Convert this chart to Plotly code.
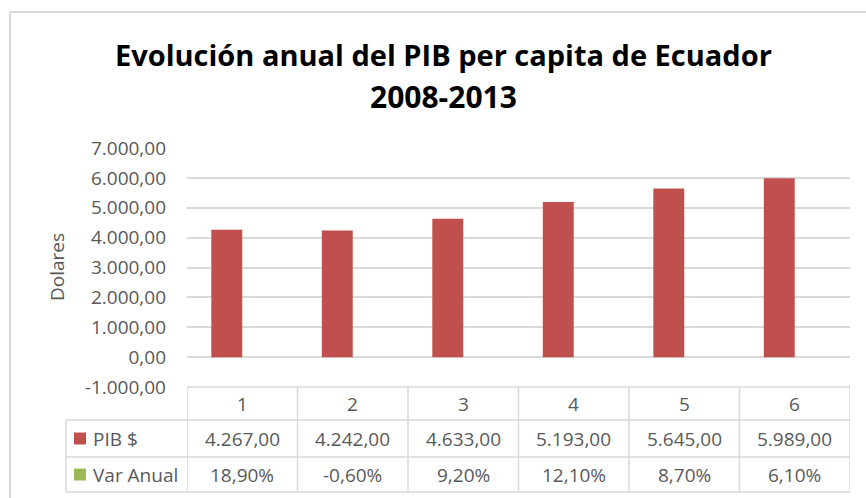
import plotly.graph_objects as go

# ---- data ----
categories = ["1", "2", "3", "4", "5", "6"]
pib_values = [4267.00, 4242.00, 4633.00, 5193.00, 5645.00, 5989.00]
var_anual_pct = [18.90, -0.60, 9.20, 12.10, 8.70, 6.10]
series_names = ["PIB $", "Var Anual"]
y_ticks = [-1000, 0, 1000, 2000, 3000, 4000, 5000, 6000, 7000]
title_lines = ["Evolución anual del PIB per capita de Ecuador", "2008-2013"]
y_title = "Dolares"

# ---- styling ----
W, H = 866, 498
ML, MR, MT, MB = 187, 16, 148, 111
PW, PH = W - ML - MR, H - MT - MB
RED = "#C0504D"
GREEN = "#9BBB59"
GRID = "#D9D9D9"
TXT = "#595959"
FONT = "Open Sans, Lato, sans-serif"


def fmt_es(v, dec=2):
    s = f"{abs(v):,.{dec}f}"
    s = s.replace(",", "X").replace(".", ",").replace("X", ".")
    return ("-" if v < 0 else "") + s


def px_x(px):
    return (px - ML) / PW


def px_y(py):
    return (H - MB - py) / PH


fig = go.Figure()
fig.add_trace(go.Bar(x=categories, y=pib_values, name=series_names[0],
                     marker=dict(color=RED, line=dict(width=0))))
# the "Var Anual" series is plotted on the same dollar axis (values < 1),
# so it is practically invisible, exactly as in the original chart
fig.add_trace(go.Bar(x=categories, y=[v / 100 for v in var_anual_pct],
                     name=series_names[1], opacity=0,
                     marker=dict(color=GREEN, line=dict(width=0))))

shapes = []
annotations = []


def ann(**kw):
    base = dict(showarrow=False, xanchor="center", yanchor="middle")
    base.update(kw)
    annotations.append(base)


# chart border (top & left visible)
shapes.append(dict(type="line", xref="paper", yref="paper",
                   x0=px_x(10), x1=px_x(870), y0=px_y(12), y1=px_y(12),
                   line=dict(color=GRID, width=2)))
shapes.append(dict(type="line", xref="paper", yref="paper",
                   x0=px_x(10), x1=px_x(10), y0=px_y(12), y1=px_y(500),
                   line=dict(color=GRID, width=2)))

# data table grid
row_tops = [387, 420, 457, 492]
left_edge = 66
n = len(categories)
shapes.append(dict(type="line", xref="paper", yref="paper", x0=0, x1=1,
                   y0=px_y(row_tops[0]), y1=px_y(row_tops[0]),
                   line=dict(color=GRID, width=1.5)))
for r in row_tops[1:]:
    shapes.append(dict(type="line", xref="paper", yref="paper",
                       x0=px_x(left_edge), x1=1, y0=px_y(r), y1=px_y(r),
                       line=dict(color=GRID, width=1.5)))
for i in range(n + 1):
    shapes.append(dict(type="line", xref="x", yref="paper",
                       x0=i - 0.5, x1=i - 0.5,
                       y0=px_y(row_tops[0]), y1=px_y(row_tops[-1]),
                       line=dict(color=GRID, width=1.5)))
shapes.append(dict(type="line", xref="paper", yref="paper",
                   x0=px_x(left_edge), x1=px_x(left_edge),
                   y0=px_y(row_tops[1]), y1=px_y(row_tops[-1]),
                   line=dict(color=GRID, width=1.5)))

row_centers = [(row_tops[i] + row_tops[i + 1]) / 2 for i in range(3)]
fs = 19
for i, c in enumerate(categories):
    ann(x=i, xref="x", y=px_y(row_centers[0]), yref="paper", text=c,
        font=dict(size=fs, color=TXT, family=FONT))
    ann(x=i, xref="x", y=px_y(row_centers[1]), yref="paper",
        text=fmt_es(pib_values[i]), font=dict(size=fs, color=TXT, family=FONT))
    ann(x=i, xref="x", y=px_y(row_centers[2]), yref="paper",
        text=fmt_es(var_anual_pct[i]) + "%",
        font=dict(size=fs, color=TXT, family=FONT))

# legend keys in table
for k, (nm, col) in enumerate(zip(series_names, [RED, GREEN])):
    cy = row_centers[k + 1]
    shapes.append(dict(type="rect", xref="paper", yref="paper",
                       x0=px_x(74), x1=px_x(86), y0=px_y(cy - 6), y1=px_y(cy + 6),
                       fillcolor=col, line=dict(width=0)))
    ann(x=px_x(91), xref="paper", y=px_y(cy), yref="paper", text=nm,
        xanchor="left", font=dict(size=fs, color=TXT, family=FONT))

# y axis title
ann(x=px_x(57), xref="paper", y=px_y(267), yref="paper", text=y_title,
    textangle=-90, font=dict(size=fs, color=TXT, family=FONT))

# title lines
ann(x=px_x(443), xref="paper", y=px_y(54), yref="paper",
    text="<b>" + title_lines[0] + "</b>",
    font=dict(size=29, color="#000000", family=FONT))
ann(x=px_x(443), xref="paper", y=px_y(96), yref="paper",
    text="<b>" + title_lines[1] + "</b>",
    font=dict(size=30, color="#000000", family=FONT))

fig.update_layout(
    width=W, height=H,
    margin=dict(l=ML, r=MR, t=MT, b=MB, autoexpand=False),
    paper_bgcolor="white", plot_bgcolor="white",
    barmode="group", bargap=0.44, bargroupgap=0,
    showlegend=False,
    shapes=shapes, annotations=annotations,
    xaxis=dict(type="category", range=[-0.5, n - 0.5], showticklabels=False,
               showgrid=False, zeroline=False, showline=False, ticks=""),
    yaxis=dict(range=[-1000, 7000], tickvals=y_ticks,
               ticktext=[fmt_es(v) for v in y_ticks],
               showgrid=True, gridcolor=GRID, gridwidth=1.5,
               zeroline=True, zerolinecolor=GRID, zerolinewidth=1.5,
               showline=False, ticks="", ticklabelstandoff=20, automargin=False,
               tickfont=dict(size=fs, color=TXT, family=FONT)),
)

fig.write_html("out.html", config={"displayModeBar": False},
               post_script="document.body.style.margin='0';document.body.style.overflow='hidden';")
